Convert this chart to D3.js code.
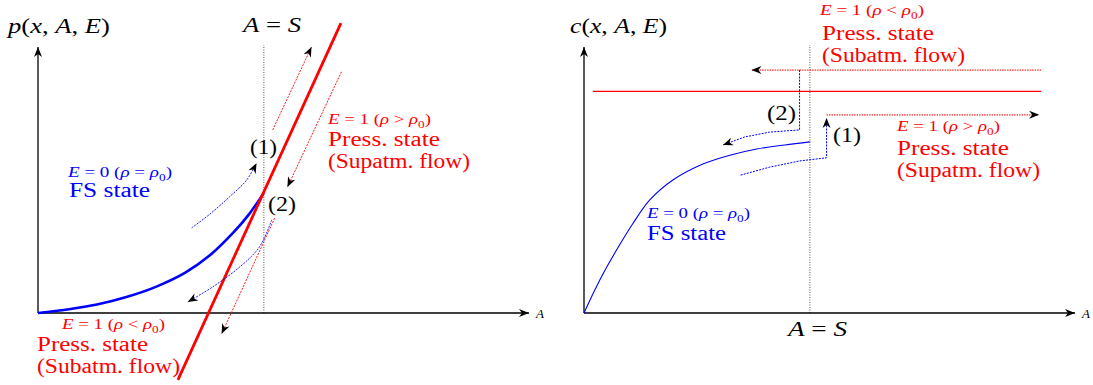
<!DOCTYPE html>
<html>
<head>
<meta charset="utf-8">
<script src="https://cdn.jsdelivr.net/npm/d3@7"></script>
<style>
  body { margin: 0; background: #fff; }
</style>
</head>
<body>
<svg id="chart" width="1093" height="385"></svg>
<script>
// ---- data (A along x, p or c along y, arbitrary units) ----
var S = 4.6;
var aMax = 10, yMax = 6;

// left panel: pressure p(x,A,E)
var pFS = [[0, 0], [0.6, 0.08], [1.2, 0.19], [1.8, 0.36], [2.4, 0.59], [3.0, 0.91],
           [3.5, 1.3], [4.0, 1.84], [4.3, 2.23], [4.6, 2.71]];
var pPress = [[2.85, -1.51], [6.17, 6.54]];
var pRedArrows = [
  [[4.78, 4.13], [5.57, 6.0]],
  [[6.18, 5.44], [5.08, 2.84]],
  [[4.82, 2.14], [3.74, -0.47]]
];
var pBlueArrows = [
  [[3.13, 1.92], [3.5, 2.23], [3.9, 2.62], [4.25, 3.0], [4.45, 3.38]],
  [[4.76, 2.1], [4.51, 1.49], [4.11, 1.04], [3.56, 0.59], [3.05, 0.25]]
];

// right panel: celerity c(x,A,E)
var cFS = [[0, 0], [0.22, 0.52], [0.43, 0.97], [0.69, 1.47], [0.98, 1.99], [1.34, 2.55],
           [1.81, 3.0], [2.42, 3.36], [2.97, 3.56], [3.52, 3.7], [4.09, 3.79], [4.6, 3.86]];
var cPress = [[0.18, 5.0], [9.31, 5.0]];
var cRedArrows = [
  [[9.31, 5.48], [3.41, 5.48]],
  [[4.94, 4.47], [9.27, 4.47]]
];
var cBlueArrows = [
  [[4.39, 5.48], [4.39, 4.13], [3.78, 4.08], [3.27, 3.97], [2.83, 3.79]],
  [[3.19, 3.11], [3.78, 3.29], [4.39, 3.43], [4.94, 3.5], [4.94, 4.4]]
];

var FONT = "'Liberation Serif', 'DejaVu Serif', 'Noto Serif', FreeSerif, Tinos, 'Times New Roman', serif";

var svg = d3.select("#chart");

var defs = svg.append("defs");
defs.append("marker")
  .attr("id", "stealth")
  .attr("viewBox", "-11 -5 12 10")
  .attr("refX", 0).attr("refY", 0)
  .attr("markerWidth", 12).attr("markerHeight", 10)
  .attr("markerUnits", "userSpaceOnUse")
  .attr("orient", "auto")
  .append("path")
  .attr("d", "M0,0 L-10,-4 L-7,0 L-10,4 Z")
  .attr("fill", "#000");

var blue = "#0000ff", red = "#ff0000";

// math-ish label: parts are [text, kind] with kind i=italic, r=roman, s=subscript
function label(g, x, y, parts, size, color, width) {
  var t = g.append("text")
    .attr("x", x).attr("y", y)
    .style("font-family", FONT)
    .style("font-size", size + "px")
    .attr("fill", color);
  var shifted = false;
  parts.forEach(function(p) {
    var ts = t.append("tspan").text(p[0]);
    if (p[1] == "i") ts.style("font-style", "italic");
    if (p[1] == "s") {
      ts.style("font-size", (size * 0.7) + "px").attr("dy", size * 0.25);
      shifted = true;
    } else if (shifted) {
      ts.attr("dy", -size * 0.25);
      shifted = false;
    }
  });
  // stretch to the width the label takes in the figure
  if (width) t.attr("textLength", width).attr("lengthAdjust", "spacingAndGlyphs");
  return t;
}

var eq = function(op, sign) {
  return [["E", "i"], [" = " + op + " (", "r"], ["ρ", "i"], [" " + sign + " ", "r"], ["ρ", "i"], ["0", "s"], [")", "r"]];
};
var func = function(f) {
  return [[f, "i"], ["(", "r"], ["x", "i"], [", ", "r"], ["A", "i"], [", ", "r"], ["E", "i"], [")", "r"]];
};
var AeqS = [["A", "i"], [" = ", "r"], ["S", "i"]];

function panel(x0) {
  var x = d3.scaleLinear().domain([0, aMax]).range([x0, x0 + 491]);
  var y = d3.scaleLinear().domain([0, yMax]).range([313, 47]);
  var g = svg.append("g");
  var line = d3.line().x(function(d) { return x(d[0]); }).y(function(d) { return y(d[1]); });

  // A = S dotted guide
  g.append("line")
    .attr("x1", x(S)).attr("x2", x(S))
    .attr("y1", y(0)).attr("y2", y(yMax) - 2)
    .attr("stroke", "#555").attr("stroke-width", 1)
    .attr("stroke-dasharray", "1,1.5");

  // axes
  g.append("line")
    .attr("x1", x(0)).attr("x2", x(aMax))
    .attr("y1", y(0)).attr("y2", y(0))
    .attr("stroke", "#000").attr("stroke-width", 1.3)
    .attr("marker-end", "url(#stealth)");
  g.append("line")
    .attr("x1", x(0)).attr("x2", x(0))
    .attr("y1", y(0)).attr("y2", y(yMax))
    .attr("stroke", "#000").attr("stroke-width", 1.3)
    .attr("marker-end", "url(#stealth)");
  label(g, x(aMax) + 7, y(0) + 5, [["A", "i"]], 13, "#000");

  return {g: g, x: x, y: y, line: line};
}

// ---- left panel ----
var L = panel(38);
L.g.append("path").datum(pFS)
  .attr("d", L.line.curve(d3.curveCatmullRom))
  .attr("fill", "none").attr("stroke", blue).attr("stroke-width", 2.6);
L.g.append("path").datum(pPress)
  .attr("d", L.line.curve(d3.curveLinear))
  .attr("fill", "none").attr("stroke", red).attr("stroke-width", 2.8);
L.g.selectAll(".redarr").data(pRedArrows).enter().append("path")
  .attr("d", L.line.curve(d3.curveLinear))
  .attr("fill", "none").attr("stroke", red).attr("stroke-width", 0.9)
  .attr("stroke-dasharray", "2,1.2")
  .attr("marker-end", "url(#stealth)");
L.g.selectAll(".bluearr").data(pBlueArrows).enter().append("path")
  .attr("d", L.line.curve(d3.curveCatmullRom))
  .attr("fill", "none").attr("stroke", blue).attr("stroke-width", 0.9)
  .attr("stroke-dasharray", "2,1.2")
  .attr("marker-end", "url(#stealth)");

label(L.g, 8, 33, func("p"), 21, "#000", 102);
label(L.g, 243, 32, AeqS, 21, "#000", 58);
label(L.g, 250, 154, [["(1)", "r"]], 21, "#000", 27);
label(L.g, 268, 211, [["(2)", "r"]], 21, "#000", 28);
label(L.g, 68, 177, eq("0", "="), 14, blue, 104);
label(L.g, 69, 197, [["FS state", "r"]], 20, blue, 81);
label(L.g, 328, 124, eq("1", ">"), 14, red, 103);
label(L.g, 328, 146, [["Press. state", "r"]], 20, red, 112);
label(L.g, 328, 168, [["(Supatm. flow)", "r"]], 20, red, 142);
label(L.g, 62, 329, eq("1", "<"), 14, red, 103);
label(L.g, 37, 351, [["Press. state", "r"]], 20, red, 111);
label(L.g, 37, 373, [["(Subatm. flow)", "r"]], 20, red, 143);

// ---- right panel ----
var R = panel(584);
R.g.append("path").datum(cFS)
  .attr("d", R.line.curve(d3.curveCatmullRom))
  .attr("fill", "none").attr("stroke", blue).attr("stroke-width", 1.1);
R.g.append("path").datum(cPress)
  .attr("d", R.line.curve(d3.curveLinear))
  .attr("fill", "none").attr("stroke", red).attr("stroke-width", 1.3);
R.g.selectAll(".redarr").data(cRedArrows).enter().append("path")
  .attr("d", R.line.curve(d3.curveLinear))
  .attr("fill", "none").attr("stroke", red).attr("stroke-opacity", 0.6)
  .attr("stroke-width", 1.8).attr("stroke-dasharray", "1.5,1")
  .attr("marker-end", "url(#stealth)");
R.g.selectAll(".bluearr").data(cBlueArrows).enter().append("path")
  .attr("d", R.line.curve(d3.curveLinear))
  .attr("fill", "none").attr("stroke", blue).attr("stroke-width", 1)
  .attr("stroke-dasharray", "2,1.2")
  .attr("marker-end", "url(#stealth)");

label(R.g, 570, 33, func("c"), 21, "#000", 97);
label(R.g, 820, 15, eq("1", "<"), 14, red, 104);
label(R.g, 822, 40, [["Press. state", "r"]], 20, red, 112);
label(R.g, 822, 62, [["(Subatm. flow)", "r"]], 20, red, 143);
label(R.g, 767, 120, [["(2)", "r"]], 21, "#000", 29);
label(R.g, 833, 142, [["(1)", "r"]], 21, "#000", 28);
label(R.g, 897, 131, eq("1", ">"), 14, red, 103);
label(R.g, 897, 155, [["Press. state", "r"]], 20, red, 112);
label(R.g, 897, 177, [["(Supatm. flow)", "r"]], 20, red, 143);
label(R.g, 647, 218, eq("0", "="), 14, blue, 103);
label(R.g, 647, 240, [["FS state", "r"]], 20, blue, 79);
label(R.g, 788, 336, AeqS, 21, "#000", 59);
</script>
</body>
</html>
